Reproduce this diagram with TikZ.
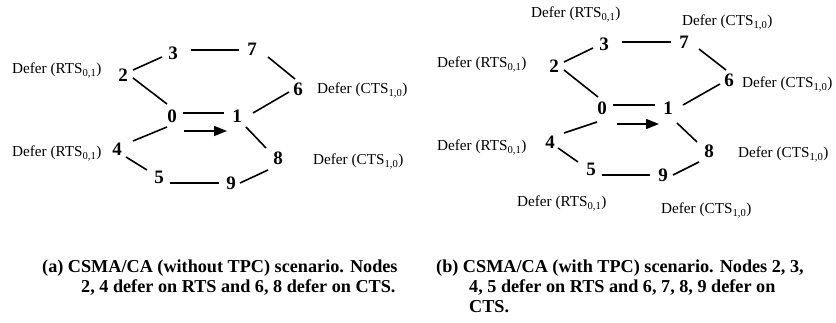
\documentclass[tikz,border=0pt]{standalone}
\usepackage{fontspec}
\setmainfont{Liberation Serif}
\usetikzlibrary{arrows.meta}

\tikzset{
  stn/.style={inner sep=0pt, font=\fontsize{19}{22}\selectfont\bfseries},
  deferlbl/.style={anchor=base west, inner sep=0pt, font=\fontsize{15.2}{18}\selectfont},
  link/.style={line width=1.6pt},
  flow/.style={line width=1.6pt, -{Triangle[length=13pt,width=10pt]}},
  capt/.style={anchor=north west, inner sep=0pt, align=left,
    font=\fontsize{18.2}{20}\selectfont\bfseries}
}
\newcommand{\rtslbl}{Defer (RTS\textsubscript{0,1})}
\newcommand{\ctslbl}{Defer (CTS\textsubscript{1,0})}

\begin{document}
\begin{tikzpicture}[x=1pt, y=-1pt]
\useasboundingbox (0,0) rectangle (836,323);

% ---------- (a) without TPC ----------
\node[stn] (n0) at (172,116) {0};
\node[stn] (n1) at (237,116) {1};
\node[stn] (n2) at (123,75)  {2};
\node[stn] (n3) at (173,53)  {3};
\node[stn] (n4) at (117,149) {4};
\node[stn] (n5) at (159,177) {5};
\node[stn] (n6) at (298,89)  {6};
\node[stn] (n7) at (252,49)  {7};
\node[stn] (n8) at (278,158) {8};
\node[stn] (n9) at (231,183) {9};

\draw[link] ([shift={(10,-5)}]n2.center) -- ([shift={(-11,4)}]n3.center);
\draw[link] ([shift={(18,-3)}]n3.center) -- ([shift={(-13,1)}]n7.center);
\draw[link] ([shift={(16,8)}]n7.center) -- ([shift={(-3,-10)}]n6.center);
\draw[link] ([shift={(10,3)}]n2.center) -- ([shift={(-5,-12)}]n0.center);
\draw[link] ([shift={(11,-3)}]n0.center) -- ([shift={(-13,-3)}]n1.center);
\draw[link] ([shift={(16,-3)}]n1.center) -- ([shift={(-9,3)}]n6.center);
\draw[link] ([shift={(-5,11)}]n0.center) -- ([shift={(16,-8)}]n4.center);
\draw[link] ([shift={(9,8)}]n4.center) -- ([shift={(-12,-7)}]n5.center);
\draw[link] ([shift={(11,6)}]n5.center) -- ([shift={(-12,0)}]n9.center);
\draw[link] ([shift={(9,0)}]n9.center) -- ([shift={(-10,12)}]n8.center);
\draw[link] ([shift={(9,11)}]n1.center) -- ([shift={(-12,-10)}]n8.center);
\draw[flow] ([shift={(12,15)}]n0.center) -- ([shift={(-10,15)}]n1.center);

\node[deferlbl] (a2) at (12,74)   {\rtslbl};
\node[deferlbl] (a4) at (12,157)  {\rtslbl};
\node[deferlbl] (a6) at (317,94)  {\ctslbl};
\node[deferlbl] (a8) at (313,165) {\ctslbl};

% ---------- (b) with TPC ----------
\node[stn] (m0) at (602,108) {0};
\node[stn] (m1) at (668,108) {1};
\node[stn] (m2) at (554,66)  {2};
\node[stn] (m3) at (604,44)  {3};
\node[stn] (m4) at (550,142) {4};
\node[stn] (m5) at (591,169) {5};
\node[stn] (m6) at (729,80)  {6};
\node[stn] (m7) at (684,42)  {7};
\node[stn] (m8) at (709,151) {8};
\node[stn] (m9) at (663,175) {9};

\draw[link] ([shift={(10,-4)}]m2.center) -- ([shift={(-11,4)}]m3.center);
\draw[link] ([shift={(18,-2)}]m3.center) -- ([shift={(-13,0)}]m7.center);
\draw[link] ([shift={(15,7)}]m7.center) -- ([shift={(-3,-10)}]m6.center);
\draw[link] ([shift={(10,4)}]m2.center) -- ([shift={(-4,-11)}]m0.center);
\draw[link] ([shift={(11,-3)}]m0.center) -- ([shift={(-13,-3)}]m1.center);
\draw[link] ([shift={(15,-3)}]m1.center) -- ([shift={(-9,4)}]m6.center);
\draw[link] ([shift={(-5,14)}]m0.center) -- ([shift={(14,-9)}]m4.center);
\draw[link] ([shift={(8,6)}]m4.center) -- ([shift={(-13,-7)}]m5.center);
\draw[link] ([shift={(11,6)}]m5.center) -- ([shift={(-13,0)}]m9.center);
\draw[link] ([shift={(10,0)}]m9.center) -- ([shift={(-10,11)}]m8.center);
\draw[link] ([shift={(9,15)}]m1.center) -- ([shift={(-12,-9)}]m8.center);
\draw[flow] ([shift={(15,16)}]m0.center) -- ([shift={(-9,16)}]m1.center);

\node[deferlbl] (b3) at (531,18)  {\rtslbl};
\node[deferlbl] (b7) at (682,26)  {\ctslbl};
\node[deferlbl] (b2) at (437,68)  {\rtslbl};
\node[deferlbl] (b6) at (742,88)  {\ctslbl};
\node[deferlbl] (b4) at (437,151) {\rtslbl};
\node[deferlbl] (b8) at (738,158) {\ctslbl};
\node[deferlbl] (b5) at (517,207) {\rtslbl};
\node[deferlbl] (b9) at (661,214) {\ctslbl};

% ---------- captions (continuation lines indented) ----------
\node[capt] (capa) at (42,260) {(a) CSMA/CA (without TPC) scenario. Nodes\\
  \hspace*{39pt}2, 4 defer on RTS and 6, 8 defer on CTS.};
\node[capt] (capb) at (436,260) {(b) CSMA/CA (with TPC) scenario. Nodes 2, 3,\\
  \hspace*{33pt}4, 5 defer on RTS and 6, 7, 8, 9 defer on\\
  \hspace*{33pt}CTS.};
\end{tikzpicture}
\end{document}
